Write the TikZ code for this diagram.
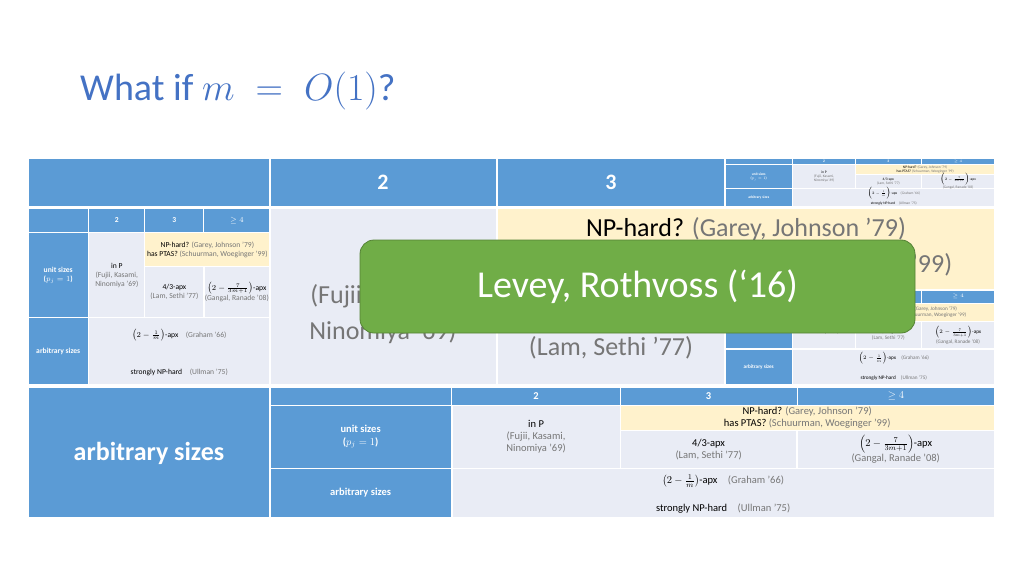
\RequirePackage{fix-cm}
\documentclass[tikz,border=0pt]{standalone}
\usepackage{fontspec}
\setmainfont{Carlito}
\usetikzlibrary{positioning}
\definecolor{hdrblue}{RGB}{91,155,213}
\definecolor{cellgray}{RGB}{233,236,245}
\definecolor{cellyel}{RGB}{255,242,204}
\definecolor{titleblue}{RGB}{68,114,196}
\definecolor{boxgreen}{RGB}{112,173,71}
\definecolor{boxedge}{RGB}{84,130,53}
\definecolor{cite}{RGB}{118,118,118}
\tikzset{
  hdr/.style={fill=hdrblue,draw=white,line width=1.2pt},
  cell/.style={fill=cellgray,draw=white,line width=1.2pt},
  yel/.style={fill=cellyel,draw=white,line width=1.2pt},
  wtxt/.style={text=white,font=\bfseries,align=center,inner sep=0pt},
  btxt/.style={align=center,inner sep=0pt},
}
% the small scheduling table: x, y, width, height, font size, name
\newcommand\schedtab[6]{%
 \begin{scope}[shift={(#1,#2)},x={(#3pt,0)},y={(0,-#4pt)},
   every node/.append style={font=\fontsize{#5}{\dimexpr #5pt*23/20\relax}\selectfont}]
  \fill[hdr](0,0) rectangle (1,.14);
  \fill[hdr](0,.14) rectangle (.251,1);
  \draw[hdr](0,.14) -- (.251,.14) (0,.62) -- (.251,.62);
  \draw[cell](.251,.14) rectangle (.483,.62);
  \draw[yel](.483,.14) rectangle (1,.33);
  \draw[cell](.483,.33) rectangle (.727,.62);
  \draw[cell](.727,.33) rectangle (1,.62);
  \draw[cell](.251,.62) rectangle (1,1);
  \foreach \xa/\xb/\t [count=\i] in {.251/.483/2,.483/.727/3,.727/1/{$\geq 4$}}{
    \draw[white,line width=1pt](\xa,0) -- (\xa,.14);
    \node[wtxt,font=\bfseries\fontsize{#5}{\dimexpr #5pt*23/20\relax}\selectfont] (#6h\i) at ({(\xa+\xb)/2},.07) {\t};
  }
  \node[wtxt,font=\bfseries\fontsize{#5}{\dimexpr #5pt*23/20\relax}\selectfont] (#6u) at (.125,.38) {unit sizes\\($p_j=1$)};
  \node[wtxt,font=\bfseries\fontsize{#5}{\dimexpr #5pt*23/20\relax}\selectfont] (#6a) at (.125,.81) {arbitrary sizes};
  \node[btxt] (#6p) at (.367,.38) {in P\\{\color{cite}(Fujii, Kasami,}\\{\color{cite}Ninomiya '69)}};
  \node[btxt] (#6np) at (.741,.235) {NP-hard? {\color{cite}(Garey, Johnson '79)}\\has PTAS? {\color{cite}(Schuurman, Woeginger '99)}};
  \node[btxt] (#6l) at (.605,.475) {4/3-apx\\{\color{cite}(Lam, Sethi '77)}};
  \node[btxt] (#6g) at (.863,.475) {$\left(2-\frac{7}{3m+1}\right)$-apx\\{\color{cite}(Gangal, Ranade '08)}};
  \node[btxt] (#6gr) at (.625,.72) {$\left(2-\frac{1}{m}\right)$-apx\quad{\color{cite}(Graham '66)}};
  \node[btxt] (#6s) at (.625,.93) {strongly NP-hard\quad{\color{cite}(Ullman '75)}};
 \end{scope}}
\begin{document}
\begin{tikzpicture}[x=1pt,y=-1pt]
  \useasboundingbox[fill=white] (0,0) rectangle (1024,575);
  \node[anchor=base west,text=titleblue,font=\fontsize{38}{42}\selectfont,inner sep=0pt]
    (title) at (80,100) {What if $m\;=\;O(1)$?};

  % top row
  \draw[hdr] (28,158) rectangle (270,207);
  \draw[hdr] (270,158) rectangle (497,207);
  \draw[hdr] (497,158) rectangle (725,207);
  \node[wtxt,font=\bfseries\fontsize{22}{24}\selectfont] (c2) at (383,182) {2};
  \node[wtxt,font=\bfseries\fontsize{22}{24}\selectfont] (c3) at (611,182) {3};
  \schedtab{725}{158}{270}{49}{3.6}{tr}

  % middle row
  \schedtab{28}{208}{242}{177}{7.6}{ml}
  \draw[cell] (270,208) rectangle (497,385);
  \node[btxt,font=\fontsize{26}{36}\selectfont] (inp) at (383,297)
    {in P\\{\color{cite}(Fujii, Kasami,}\\{\color{cite}Ninomiya '69)}};
  \draw[yel] (497,208) rectangle (995,290);
  \node[btxt,font=\fontsize{26}{36}\selectfont] (nph) at (746,247)
    {NP-hard? {\color{cite}(Garey, Johnson '79)}\\has PTAS? {\color{cite}(Schuurman, Woeginger '99)}};
  \draw[cell] (497,290) rectangle (725,385);
  \node[btxt,font=\fontsize{26}{36}\selectfont] (lam) at (611,330)
    {4/3-apx\\{\color{cite}(Lam, Sethi '77)}};
  \schedtab{725}{290}{270}{95}{5.2}{mr}

  % bottom row
  \draw[hdr] (28,387) rectangle (270,518);
  \node[wtxt,font=\bfseries\fontsize{26}{28}\selectfont] (arb) at (149,453) {arbitrary sizes};
  \schedtab{270}{387}{725}{131}{10.5}{bt}

  % overlay
  \node[draw=boxedge,fill=boxgreen,rounded corners=14pt,line width=0.8pt,
    minimum width=555pt,minimum height=93pt,text=white,
    font=\fontsize{38}{40}\selectfont] (lr) at (637.5,286.5) {Levey, Rothvoss (`16)};
\end{tikzpicture}
\end{document}
